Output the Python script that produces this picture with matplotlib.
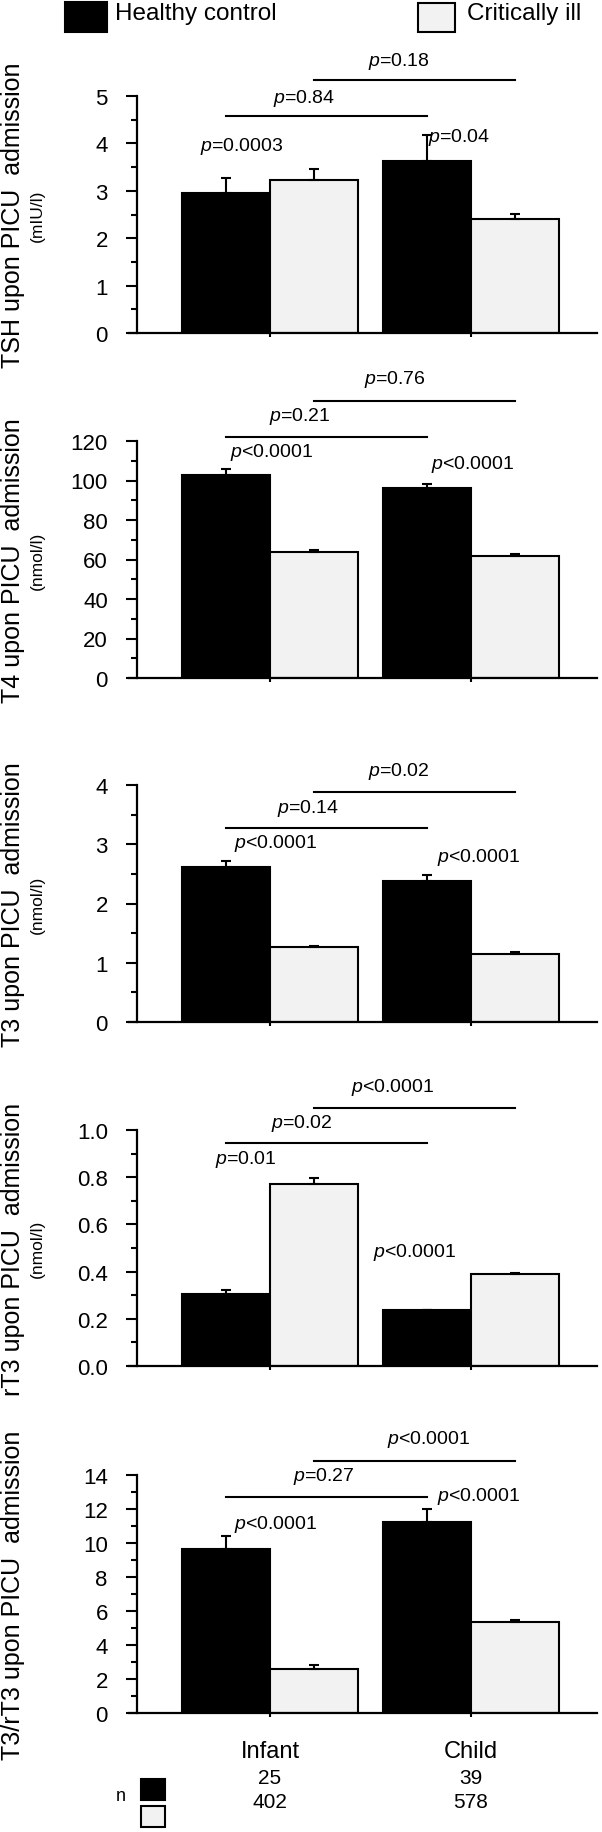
import matplotlib
matplotlib.use("Agg")
import matplotlib.pyplot as plt
from matplotlib.patches import Rectangle
from matplotlib.ticker import MultipleLocator, FormatStrFormatter

plt.rcParams['font.family'] = ['Liberation Sans', 'DejaVu Sans']
plt.rcParams['mathtext.fontset'] = 'custom'
plt.rcParams['mathtext.it'] = 'Liberation Sans:italic'
plt.rcParams['mathtext.rm'] = 'Liberation Sans'

W, H = 602, 1833

groups = ["Infant", "Child"]
series = ["Healthy control", "Critically ill"]
n_healthy = [25, 39]
n_ill = [402, 578]

labels = ["TSH upon PICU  admission", "T4 upon PICU  admission", "T3 upon PICU  admission",
          "rT3 upon PICU  admission", "T3/rT3 upon PICU  admission"]
units = ["(mIU/l)", "(nmol/l)", "(nmol/l)", "(nmol/l)", ""]
ymax = [5, 120, 4, 1.0, 14]
major_step = [1, 20, 1, 0.2, 2]
minor_step = [0.5, 10, 0.5, 0.1, 1]
tick_fmt = ["%d", "%d", "%d", "%.1f", "%d"]

healthy = [[2.95, 3.62], [102.8, 96.2], [2.61, 2.38], [0.304, 0.236], [9.65, 11.25]]
healthy_err = [[0.33, 0.56], [3.2, 2.0], [0.10, 0.10], [0.018, 0.0], [0.74, 0.75]]
ill = [[3.23, 2.40], [64.0, 61.6], [1.26, 1.14], [0.77, 0.389], [2.59, 5.37]]
ill_err = [[0.22, 0.12], [0.8, 1.2], [0.03, 0.04], [0.028, 0.007], [0.25, 0.10]]

# p values within age group: (text, x, y)
p_within = [
    [("p=0.0003", -0.14, 3.95), ("p=0.04", 0.94, 4.15)],
    [("p<0.0001", 0.01, 114.6), ("p<0.0001", 1.01, 108.4)],
    [("p<0.0001", 0.03, 3.03), ("p<0.0001", 1.04, 2.80)],
    [("p=0.01", -0.12, 0.879), ("p<0.0001", 0.72, 0.487)],
    [("p<0.0001", 0.03, 11.12), ("p<0.0001", 1.04, 12.78)],
]
# p values infant vs child: (text, line y, text x, text y) for healthy and ill
p_between = [
    [("p=0.84", 4.58, 0.17, 4.96), ("p=0.18", 5.34, 0.64, 5.74)],
    [("p=0.21", 121.9, 0.15, 132.8), ("p=0.76", 140.4, 0.62, 151.4)],
    [("p=0.14", 3.28, 0.19, 3.62), ("p=0.02", 3.89, 0.64, 4.24)],
    [("p=0.02", 0.947, 0.16, 1.031), ("p<0.0001", 1.094, 0.61, 1.186)],
    [("p=0.27", 12.69, 0.27, 13.96), ("p<0.0001", 14.84, 0.79, 16.12)],
]

# panel rows in pixels from top: (top of y axis, baseline)
rows = [(97, 334), (442, 679), (786, 1023), (1131, 1367), (1476, 1714)]
x_left_px, x_right_px = 129, 597
x0_px, px_per_unit = 270, 201

BLACK = "#000000"
GREY = "#f2f2f2"
width = 0.44
pos = [0, 1]


def italic_p(s):
    return "$p$" + s[1:]


fig = plt.figure(figsize=(W / 100, H / 100), dpi=100)

for i in range(5):
    top, base = rows[i]
    ax = fig.add_axes([x_left_px / W, 1 - base / H, (x_right_px - x_left_px) / W, (base - top) / H])
    ax.set_xlim((x_left_px - x0_px) / px_per_unit, (x_right_px - x0_px) / px_per_unit)
    ax.set_ylim(0, ymax[i])

    xh = [p - width / 2 for p in pos]
    xi = [p + width / 2 for p in pos]
    ax.bar(xh, healthy[i], width, color=BLACK, edgecolor="black", linewidth=1.5, zorder=2)
    ax.bar(xi, ill[i], width, color=GREY, edgecolor="black", linewidth=1.5, zorder=2)
    ax.errorbar(xh, healthy[i], yerr=[[0, 0], healthy_err[i]], fmt="none", ecolor="black",
                elinewidth=1.5, capsize=3.5, capthick=1.5, zorder=3)
    ax.errorbar(xi, ill[i], yerr=[[0, 0], ill_err[i]], fmt="none", ecolor="black",
                elinewidth=1.5, capsize=3.5, capthick=1.5, zorder=3)

    for s, x, y in p_within[i]:
        ax.text(x, y, italic_p(s), ha="center", va="center", fontsize=14)
    for (s, ly, tx, ty), (a, b) in zip(p_between[i], [(xh[0], xh[1]), (xi[0], xi[1])]):
        ax.plot([a, b], [ly, ly], color="black", linewidth=1.5, clip_on=False)
        ax.text(tx, ty, italic_p(s), ha="center", va="center", fontsize=14)

    for side in ["top", "right"]:
        ax.spines[side].set_visible(False)
    ax.spines["left"].set_position(("data", (137 - x0_px) / px_per_unit))
    ax.spines["left"].set_linewidth(1.6)
    ax.spines["bottom"].set_linewidth(1.6)
    ax.yaxis.set_major_locator(MultipleLocator(major_step[i]))
    ax.yaxis.set_minor_locator(MultipleLocator(minor_step[i]))
    ax.yaxis.set_major_formatter(FormatStrFormatter(tick_fmt[i]))
    ax.tick_params(axis="y", which="major", length=8, width=1.5, labelsize=16, pad=13)
    ax.tick_params(axis="y", which="minor", length=4.3, width=1.5)
    ax.set_xticks(pos)
    ax.tick_params(axis="x", length=3, width=1.5, labelbottom=False)

    yc = 1 - (top + base) / 2 / H
    fig.text(13 / W, yc, labels[i], rotation=90, ha="center", va="center", fontsize=18)
    if units[i]:
        fig.text(37 / W, yc, units[i], rotation=90, ha="center", va="center", fontsize=12.5)

    if i == 4:
        for p, g, nh, ni in zip(pos, groups, n_healthy, n_ill):
            xf = (x0_px + p * px_per_unit) / W
            fig.text(xf, 1 - 1752 / H, g, ha="center", va="center", fontsize=17)
            fig.text(xf, 1 - 1779 / H, str(nh), ha="center", va="center", fontsize=15)
            fig.text(xf, 1 - 1803 / H, str(ni), ha="center", va="center", fontsize=15)

# legend at top
legend_boxes = [(65, 3, 42, 30), (418, 4, 37, 29)]
legend_text_x = [115, 467]
for (bx, by, bw, bh), tx, name, col in zip(legend_boxes, legend_text_x, series, [BLACK, GREY]):
    fig.add_artist(Rectangle((bx / W, 1 - (by + bh) / H), bw / W, bh / H, transform=fig.transFigure,
                             facecolor=col, edgecolor="black", linewidth=1.5))
    fig.text(tx / W, 1 - 14 / H, name, ha="left", va="center", fontsize=17.5)

# n boxes
fig.text(121 / W, 1 - 1797 / H, "n", ha="center", va="center", fontsize=13)
for (by, col) in [(1780, BLACK), (1807, GREY)]:
    fig.add_artist(Rectangle((141 / W, 1 - (by + 21) / H), 24 / W, 21 / H, transform=fig.transFigure,
                             facecolor=col, edgecolor="black", linewidth=1.5))

fig.savefig("out.png", dpi=100)
